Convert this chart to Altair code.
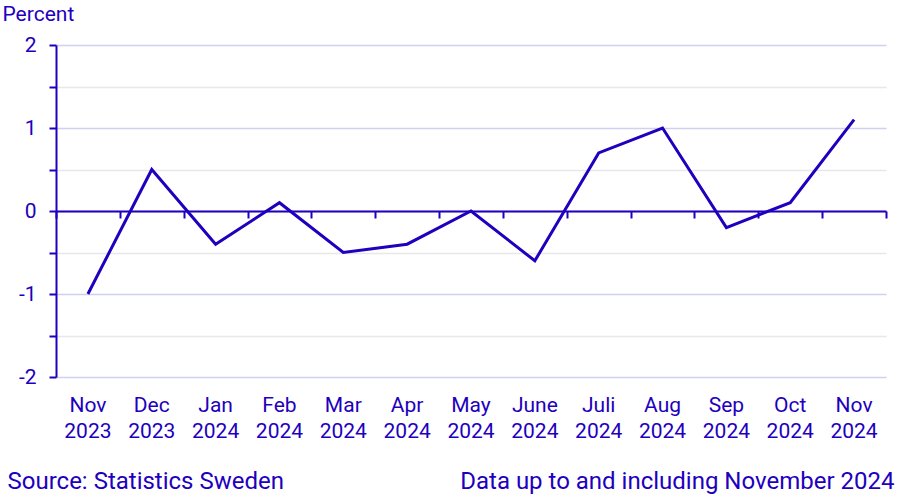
import altair as alt
import pandas as pd

months = ["Nov 2023", "Dec 2023", "Jan 2024", "Feb 2024", "Mar 2024", "Apr 2024",
          "May 2024", "June 2024", "Juli 2024", "Aug 2024", "Sep 2024", "Oct 2024", "Nov 2024"]
values = [-1.0, 0.5, -0.4, 0.1, -0.5, -0.4, 0.0, -0.6, 0.7, 1.0, -0.2, 0.1, 1.1]
y_ticks = [-2, -1.5, -1, -0.5, 0, 0.5, 1, 1.5, 2]
zero = [0]

df = pd.DataFrame({"month": months, "value": values})
zdf = pd.DataFrame({"month": months[:1], "value": zero})

BLUE = "#1e00be"
FONT = "Roboto"

xscale = alt.Scale(paddingInner=0, paddingOuter=0)
yscale = alt.Scale(domain=[-2, 2], nice=False, zero=False)

yaxis = alt.Axis(
    values=y_ticks,
    labelExpr="datum.value % 1 === 0 ? datum.value : ''",
    title="Percent", titleAngle=0, titleX=-54, titleY=-31, titleAlign="left",
    titleBaseline="middle", titleFont=FONT, titleFontSize=21, titleFontWeight="normal",
    titleColor=BLUE,
    labelFont=FONT, labelFontSize=21, labelColor=BLUE, labelPadding=13,
    domainColor=BLUE, domainWidth=2, tickColor=BLUE, tickWidth=2, tickSize=7,
    grid=True,
    gridColor={"condition": {"test": "datum.value % 1 === 0", "value": "#d0d0f2"}, "value": "#e8e8ec"},
    gridWidth=1.5,
)

line = alt.Chart(df).mark_line(color=BLUE, strokeWidth=3).encode(
    x=alt.X("month:N", sort=months, scale=xscale,
            axis=alt.Axis(orient="bottom", labelExpr="split(datum.label, ' ')", labelAngle=0,
                          labelFont=FONT, labelFontSize=21, labelColor=BLUE,
                          labelLineHeight=26, labelPadding=17, labelBaseline="top",
                          domain=False, ticks=False, grid=False,
                          title="Data up to and including November 2024",
                          titleFont=FONT, titleFontSize=24, titleFontWeight="normal",
                          titleColor=BLUE, titleX=838, titleY=104, titleAlign="right",
                          titleBaseline="middle", titleAnchor="end")),
    y=alt.Y("value:Q", scale=yscale, axis=yaxis),
)

zero_axis = alt.Chart(zdf).mark_point(opacity=0).encode(
    x=alt.X("month:N", sort=months, scale=xscale,
            axis=alt.Axis(orient="bottom", offset=-166, labels=False, domain=True, domainColor=BLUE,
                          domainWidth=2, ticks=True, tickColor=BLUE, tickWidth=2,
                          tickSize=7, tickBand="extent", grid=False,
                          title="Source: Statistics Sweden",
                          titleFont=FONT, titleFontSize=24, titleFontWeight="normal",
                          titleColor=BLUE, titleX=-49, titleY=270, titleAlign="left",
                          titleBaseline="middle", titleAnchor="start")),
    y=alt.Y("value:Q", scale=yscale, axis=yaxis),
)

chart = alt.layer(line, zero_axis).resolve_axis(x="independent").properties(
    width=830, height=332,
    autosize=alt.AutoSizeParams(type="none"),
    padding={"left": 56, "top": 45, "right": 23, "bottom": 124},
    background="white",
).configure_view(stroke=None)

chart.save("out.html", embed_options={"renderer": "svg", "actions": False})
